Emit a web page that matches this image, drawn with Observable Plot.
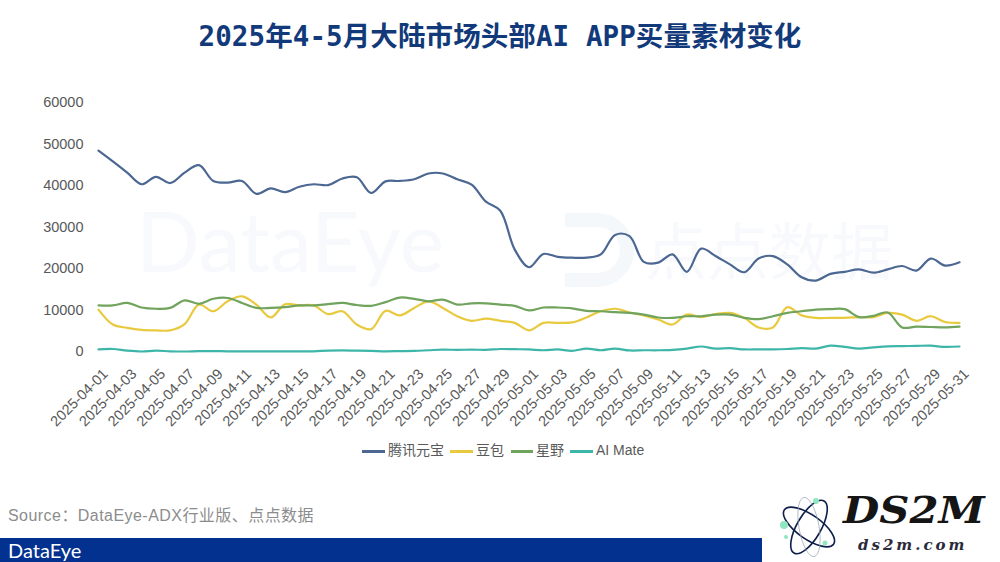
<!DOCTYPE html>
<html lang="zh">
<head>
<meta charset="utf-8">
<script src="https://cdn.jsdelivr.net/npm/d3@7"></script>
<script src="https://cdn.jsdelivr.net/npm/@observablehq/plot@0.6"></script>
<style>
html,body{margin:0;padding:0;background:#fff;width:1000px;height:562px;overflow:hidden}
body{position:relative;font-family:"Liberation Sans","Noto Sans CJK SC",sans-serif}
#title{position:absolute;left:0;top:18px;width:1000px;text-align:center;font:700 27.5px/36px "DejaVu Sans Mono","Noto Sans CJK SC",sans-serif;color:#123a7a;letter-spacing:.1px}
.wm{position:absolute;color:#f7f9fc;white-space:nowrap}
#chart{position:absolute;left:0;top:75px}
#legend{position:absolute;left:0;top:441px;width:1000px;height:18px;font-size:14px;line-height:18px;color:#595959}
#legend span{position:absolute;top:0}
#legend i{position:absolute;top:9px;height:2.5px;display:block}
#source{position:absolute;left:8px;top:506px;font-size:16px;line-height:20px;color:#8c8c8c;letter-spacing:.45px}
#band{position:absolute;left:0;top:538px;width:762px;height:24px;background:#03318f}
#brand{position:absolute;left:8px;top:0;font:400 20px/24px Lato,"Liberation Sans",sans-serif;color:#fff}
#logo1{position:absolute;left:843px;top:490px;font:italic 700 38px/40px "DejaVu Serif",serif;color:#151515;transform:scaleX(1.1);transform-origin:0 50%}
#logo2{position:absolute;left:858px;top:536px;font:italic 700 15px/18px "DejaVu Serif",serif;color:#2a2a3a;letter-spacing:3px}
#atom{position:absolute;left:778px;top:495px}
#wmIcon{position:absolute;left:557px;top:212px}
</style>
</head>
<body>
<div id="title">2025年4-5月大陆市场头部AI APP买量素材变化</div>
<div class="wm" style="left:136px;top:192px;font:400 84px/96px Lato,sans-serif">DataEye</div>
<svg id="wmIcon" width="86" height="76" viewBox="0 0 86 76" fill="none" stroke="#f5f8fb" stroke-width="14">
  <path d="M8 8H40A30 30 0 0 1 40 68H8"/>
</svg>
<div class="wm" style="left:645px;top:212px;font-size:62px;line-height:72px;font-family:'Noto Sans CJK SC'">点点数据</div>
<div id="chart"></div>
<div id="legend"></div>
<div id="source">Source：DataEye-ADX行业版、点点数据</div>
<div id="band"><div id="brand">DataEye</div></div>
<svg id="atom" width="62" height="64" viewBox="0 0 62 64" fill="none" stroke="#0f1f4a" stroke-width="1.6">
  <ellipse cx="31" cy="32" rx="30" ry="12" transform="rotate(35 31 32)"/>
  <ellipse cx="31" cy="32" rx="30" ry="12" transform="rotate(-60 31 32)"/>
  <ellipse cx="31" cy="32" rx="30" ry="10" transform="rotate(80 31 32)" stroke-width=".7" stroke="#9aa3b5"/>
  <circle cx="6" cy="30" r="4" fill="#8fe6bf" stroke="none"/>
  <circle cx="38" cy="6" r="3" fill="#8fe6bf" stroke="none"/>
  <circle cx="47" cy="48" r="2.5" fill="#8fe6bf" stroke="none"/>
  <circle cx="8" cy="42" r="2" fill="#8fe6bf" stroke="none"/>
</svg>
<div id="logo1">DS2M</div>
<div id="logo2">ds2m.com</div>
<script>
const startDate = "2025-04-01";
const endDate = "2025-05-31";
const seriesNames = ["腾讯元宝", "豆包", "星野", "AI Mate"];
const seriesColors = ["#4b6792", "#e9ca3f", "#70a35c", "#3db6a9"];
const yTicks = [0, 10000, 20000, 30000, 40000, 50000, 60000];

const tencent = [48400,45800,43100,40300,42100,40600,43100,44900,41100,40700,41100,38000,39300,38400,39700,40300,40100,41700,42000,38200,41000,41100,41500,42900,42900,41500,40200,36100,33900,24600,20300,23500,22800,22600,22600,23400,28100,27800,21600,21400,23400,19200,24800,23000,21000,19100,22400,23000,21000,17900,17100,18700,19200,19800,19000,19800,20600,19500,22400,20700,21500];
const doubao = [10100,6500,5700,5200,5100,5100,6600,11300,9700,12100,13300,11300,8200,11400,11100,11100,9000,9700,6500,5400,9800,8700,10500,12100,10500,8500,7400,7900,7400,6900,5100,6900,6900,7000,8200,9700,10300,9400,8700,7700,6500,8900,8300,9000,9300,8100,5800,5800,10700,8700,8100,8100,8100,8300,8300,9300,8900,7400,8500,7100,6900];
const xingye = [11100,11100,11700,10600,10300,10500,12300,11500,12700,12900,11700,10500,10500,10700,11100,11100,11400,11700,11200,11000,11900,13000,12700,12100,12500,11300,11600,11600,11300,11000,9900,10600,10600,10400,9800,9700,9500,9300,8900,8200,8100,8500,8500,8900,8900,8100,7800,8500,9300,9700,10100,10200,10200,8300,8600,9400,5800,6000,5900,5800,6000];
const aiMate = [500,600,200,0,200,50,0,100,100,50,50,50,50,50,50,50,200,250,200,150,50,100,150,300,450,400,450,400,600,550,500,300,500,150,700,300,700,250,300,300,400,700,1200,700,800,500,500,500,600,800,700,1400,1100,700,1000,1250,1300,1350,1400,1100,1200];
const seriesValues = [tencent, doubao, xingye, aiMate];

const parse = d3.utcParse("%Y-%m-%d");
const fmt = d3.utcFormat("%Y-%m-%d");
const days = d3.utcDay.range(parse(startDate), d3.utcDay.offset(parse(endDate), 1));
const xTicks = days.filter((d, i) => i % 2 === 0);
const rows = seriesNames.flatMap((name, s) => days.map((date, i) => ({date, name, value: seriesValues[s][i]})));

const chart = Plot.plot({
  width: 1000, height: 370,
  marginLeft: 98, marginRight: 41, marginTop: 27, marginBottom: 94,
  style: {background: "transparent", fontFamily: '"Liberation Sans",sans-serif', overflow: "visible"},
  x: {type: "utc", domain: [parse(startDate), parse(endDate)]},
  y: {domain: [0, 60000]},
  color: {domain: seriesNames, range: seriesColors},
  marks: [
    Plot.axisY({ticks: yTicks, tickFormat: d => String(d), tickSize: 0, tickPadding: 15, label: null, fontSize: 14.5, color: "#595959"}),
    Plot.axisX({ticks: xTicks, tickFormat: fmt, tickSize: 0, tickPadding: 6, tickRotate: -45, label: null, fontSize: 14.5, color: "#595959", dx: 7, dy: 14}),
    Plot.line(rows, {x: "date", y: "value", z: "name", stroke: "name", strokeWidth: 2.2, curve: "catmull-rom"})
  ]
});
document.getElementById("chart").appendChild(chart);

const legendX = [[362,388],[450,476],[511,536],[570,596]];
const legend = document.getElementById("legend");
seriesNames.forEach((name, i) => {
  const line = document.createElement("i");
  line.style.left = legendX[i][0] + "px";
  line.style.width = (legendX[i][1] - legendX[i][0] - 3) + "px";
  line.style.background = seriesColors[i];
  const label = document.createElement("span");
  label.style.left = legendX[i][1] + "px";
  label.textContent = name;
  legend.append(line, label);
});
</script>
</body>
</html>
